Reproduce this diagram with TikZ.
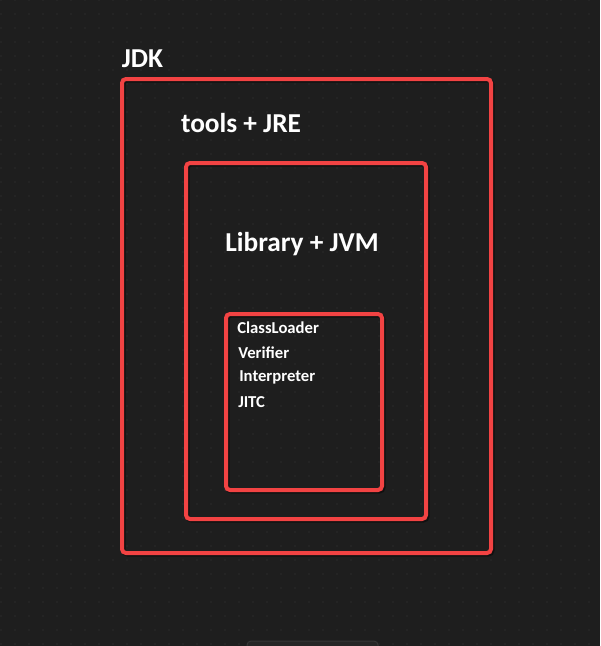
\documentclass[tikz,border=0pt]{standalone}
\usepackage{fontspec}
\setmainfont{Carlito}
\definecolor{bg}{HTML}{1E1E1E}
\definecolor{dotc}{HTML}{2C2C2C}
\definecolor{boxred}{HTML}{F24343}
\definecolor{barfill}{HTML}{262626}
\definecolor{barline}{HTML}{363636}
\tikzset{
  frame/.style={draw=boxred, line width=4*0.75pt, rounded corners=3pt},
  frameshadow/.style={draw=black, opacity=0.45, line width=4*0.75pt, rounded corners=3pt},
  bigtext/.style={font=\bfseries\fontsize{20.5}{24}\selectfont, text=white, inner sep=0pt, anchor=center},
  smalltext/.style={font=\bfseries\fontsize{12.5}{15}\selectfont, text=white, inner sep=0pt, anchor=west},
}
\begin{document}
\begin{tikzpicture}[x=0.75pt,y=-0.75pt]
\fill[bg] (0,0) rectangle (600,646);
\useasboundingbox (0,0) rectangle (600,646);
% dot grid
\foreach \i in {0,...,42} {
  \foreach \j in {0,...,46} {
    \fill[dotc] ({1+14*\i},{0+14*\j}) circle (0.8);
  }
}
% bottom bar
\draw[fill=barfill, draw=barline, line width=0.75pt, rounded corners=3pt] (247,641) rectangle (378,660);
% shadows
\draw[frameshadow] (123.5,80.5) rectangle (492.5,554.5);
\draw[frameshadow] (187.5,164.5) rectangle (427.5,520.5);
\draw[frameshadow] (227.5,315.5) rectangle (383.5,491.5);
% frames
\draw[frame] (122,79) rectangle (491,553) coordinate (jdkbox);
\draw[frame] (186,163) rectangle (426,519) coordinate (jrebox);
\draw[frame] (226,314) rectangle (382,490) coordinate (jvmbox);
% labels
\node[bigtext] (jdk) at (142.5,59) {JDK};
\node[bigtext] (jre) at (241,123) {tools + JRE};
\node[bigtext] (jvm) at (302,244) {Library + JVM};
\node[smalltext] (cl) at (237,327.5) {ClassLoader};
\node[smalltext] (ver) at (238,352.5) {Verifier};
\node[smalltext] (int) at (239,377.5) {Interpreter};
\node[smalltext] (jitc) at (238,402) {JITC};
\end{tikzpicture}
\end{document}
